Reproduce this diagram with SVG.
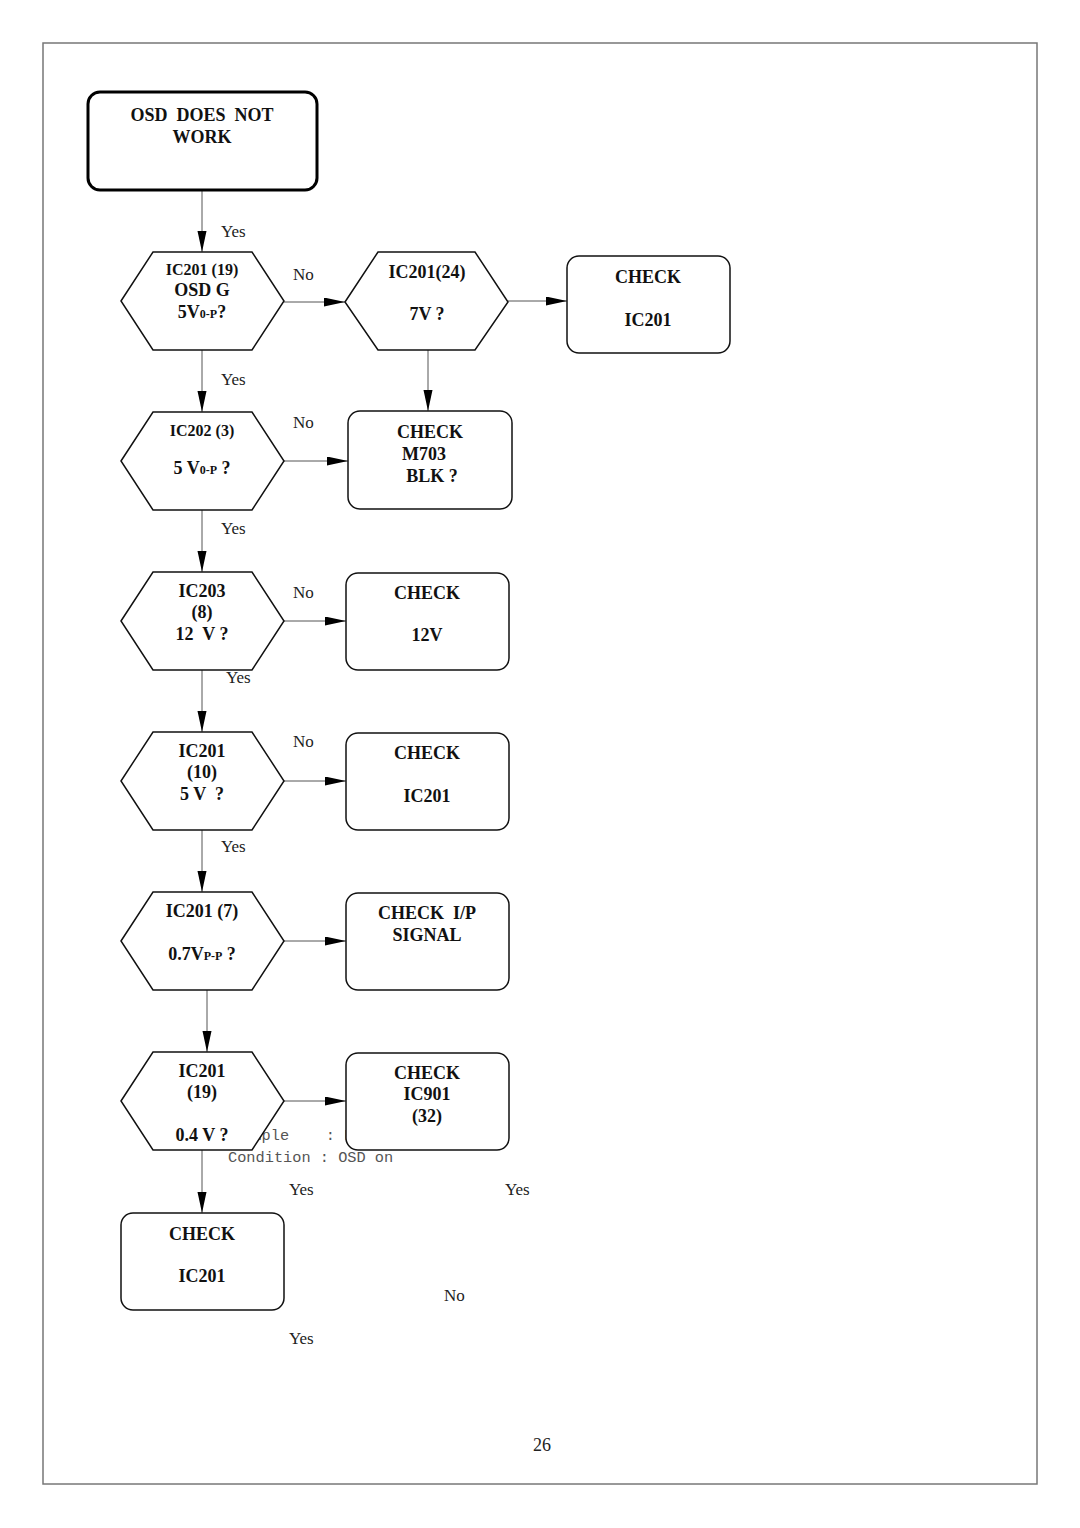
<svg xmlns="http://www.w3.org/2000/svg" width="1080" height="1528" viewBox="0 0 1080 1528">
<style>
.t{font-family:"Liberation Serif","Times New Roman",serif;font-weight:bold;font-size:18px;fill:#111;text-anchor:middle;white-space:pre}
.s{font-size:16px}
.sub{font-size:12px}
.l{font-family:"Liberation Serif","Times New Roman",serif;font-size:17px;fill:#222}
.m{font-family:"Liberation Mono","DejaVu Sans Mono",monospace;font-size:15.3px;fill:#555;white-space:pre}
.hex,.box{fill:#fff;stroke:#111;stroke-width:1.5}
.c{stroke:#555;stroke-width:1;fill:none}
</style>
<defs>
<marker id="a" markerUnits="userSpaceOnUse" markerWidth="22" markerHeight="10" refX="21" refY="4.5" orient="auto">
<path d="M0,0 L21,4.5 L0,9 z" fill="#000"/>
</marker>
</defs>
<rect x="43" y="43" width="994" height="1441" fill="none" stroke="#777" stroke-width="1.5"/>

<g id="stray-text">
<text class="m" x="234" y="1140">Sample    : N</text>
<text class="m" x="228" y="1162">Condition : OSD on</text>
<text class="l" x="289" y="1195">Yes</text>
<text class="l" x="505" y="1195">Yes</text>
<text class="l" x="444" y="1301">No</text>
<text class="l" x="289" y="1344">Yes</text>
<text class="l" x="533" y="1451" style="font-size:18px">26</text>
</g>

<g id="connectors">
<line class="c" x1="202" y1="191" x2="202" y2="252" marker-end="url(#a)"/>
<line class="c" x1="284" y1="302" x2="345" y2="302" marker-end="url(#a)"/>
<line class="c" x1="508" y1="301" x2="567" y2="301" marker-end="url(#a)"/>
<line class="c" x1="428" y1="350" x2="428" y2="411" marker-end="url(#a)"/>
<line class="c" x1="202" y1="350" x2="202" y2="412" marker-end="url(#a)"/>
<line class="c" x1="284" y1="461" x2="348" y2="461" marker-end="url(#a)"/>
<line class="c" x1="202" y1="510" x2="202" y2="572" marker-end="url(#a)"/>
<line class="c" x1="284" y1="621" x2="346" y2="621" marker-end="url(#a)"/>
<line class="c" x1="202" y1="670" x2="202" y2="732" marker-end="url(#a)"/>
<line class="c" x1="284" y1="781" x2="346" y2="781" marker-end="url(#a)"/>
<line class="c" x1="202" y1="830" x2="202" y2="892" marker-end="url(#a)"/>
<line class="c" x1="284" y1="941" x2="346" y2="941" marker-end="url(#a)"/>
<line class="c" x1="207" y1="990" x2="207" y2="1052" marker-end="url(#a)"/>
<line class="c" x1="284" y1="1101" x2="346" y2="1101" marker-end="url(#a)"/>
<line class="c" x1="202" y1="1150" x2="202" y2="1213" marker-end="url(#a)"/>
<text class="l" x="221" y="237">Yes</text>
<text class="l" x="221" y="385">Yes</text>
<text class="l" x="221" y="534">Yes</text>
<text class="l" x="221" y="852">Yes</text>
<text class="l" x="293" y="280">No</text>
<text class="l" x="293" y="428">No</text>
<text class="l" x="293" y="598">No</text>
<text class="l" x="293" y="747">No</text>
</g>

<g id="start">
<rect x="88" y="92" width="229" height="98" rx="12" fill="#fff" stroke="#000" stroke-width="3"/>
<text class="t" x="202" y="121">OSD  DOES  NOT</text>
<text class="t" x="202" y="143">WORK</text>
</g>

<g id="hex1">
<polygon class="hex" points="121,301 153,252 252,252 284,301 252,350 153,350"/>
<text class="t s" x="202" y="275">IC201 (19)</text>
<text class="t" x="202" y="296">OSD G</text>
<text class="t" x="202" y="318">5V<tspan class="sub">0-P</tspan>?</text>
</g>

<g id="hex2">
<polygon class="hex" points="345,302 378,252 475,252 508,302 475,350 378,350"/>
<text class="t" x="427" y="278">IC201(24)</text>
<text class="t" x="427" y="320">7V ?</text>
</g>

<g id="box-check-ic201-top">
<rect class="box" x="567" y="256" width="163" height="97" rx="12"/>
<text class="t" x="648" y="283">CHECK</text>
<text class="t" x="648" y="326">IC201</text>
</g>

<g id="hex3">
<polygon class="hex" points="121,461 153,412 252,412 284,461 252,510 153,510"/>
<text class="t s" x="202" y="436">IC202 (3)</text>
<text class="t" x="202" y="474">5 V<tspan class="sub">0-P</tspan> ?</text>
</g>

<g id="box-m703">
<rect class="box" x="348" y="411" width="164" height="98" rx="12"/>
<text class="t" x="430" y="438">CHECK</text>
<text class="t" x="424" y="460">M703</text>
<text class="t" x="432" y="482">BLK ?</text>
</g>

<g id="hex4">
<polygon class="hex" points="121,621 153,572 252,572 284,621 252,670 153,670"/>
<text class="t" x="202" y="597">IC203</text>
<text class="t" x="202" y="618">(8)</text>
<text class="t" x="202" y="640">12  V ?</text>
</g>
<text class="l" x="226" y="683">Yes</text>

<g id="box-12v">
<rect class="box" x="346" y="573" width="163" height="97" rx="12"/>
<text class="t" x="427" y="599">CHECK</text>
<text class="t" x="427" y="641">12V</text>
</g>

<g id="hex5">
<polygon class="hex" points="121,781 153,732 252,732 284,781 252,830 153,830"/>
<text class="t" x="202" y="757">IC201</text>
<text class="t" x="202" y="778">(10)</text>
<text class="t" x="202" y="800">5 V  ?</text>
</g>

<g id="box-ic201-mid">
<rect class="box" x="346" y="733" width="163" height="97" rx="12"/>
<text class="t" x="427" y="759">CHECK</text>
<text class="t" x="427" y="802">IC201</text>
</g>

<g id="hex6">
<polygon class="hex" points="121,941 153,892 252,892 284,941 252,990 153,990"/>
<text class="t" x="202" y="917">IC201 (7)</text>
<text class="t" x="202" y="960">0.7V<tspan class="sub">P-P</tspan> ?</text>
</g>

<g id="box-ip">
<rect class="box" x="346" y="893" width="163" height="97" rx="12"/>
<text class="t" x="427" y="919">CHECK  I/P</text>
<text class="t" x="427" y="941">SIGNAL</text>
</g>

<g id="hex7">
<polygon class="hex" points="121,1101 153,1052 252,1052 284,1101 252,1150 153,1150"/>
<text class="t" x="202" y="1077">IC201</text>
<text class="t" x="202" y="1098">(19)</text>
<text class="t" x="202" y="1141">0.4 V ?</text>
</g>

<g id="box-ic901">
<rect class="box" x="346" y="1053" width="163" height="97" rx="12"/>
<text class="t" x="427" y="1079">CHECK</text>
<text class="t" x="427" y="1100">IC901</text>
<text class="t" x="427" y="1122">(32)</text>
</g>

<g id="box-ic201-bottom">
<rect class="box" x="121" y="1213" width="163" height="97" rx="12"/>
<text class="t" x="202" y="1240">CHECK</text>
<text class="t" x="202" y="1282">IC201</text>
</g>
</svg>
